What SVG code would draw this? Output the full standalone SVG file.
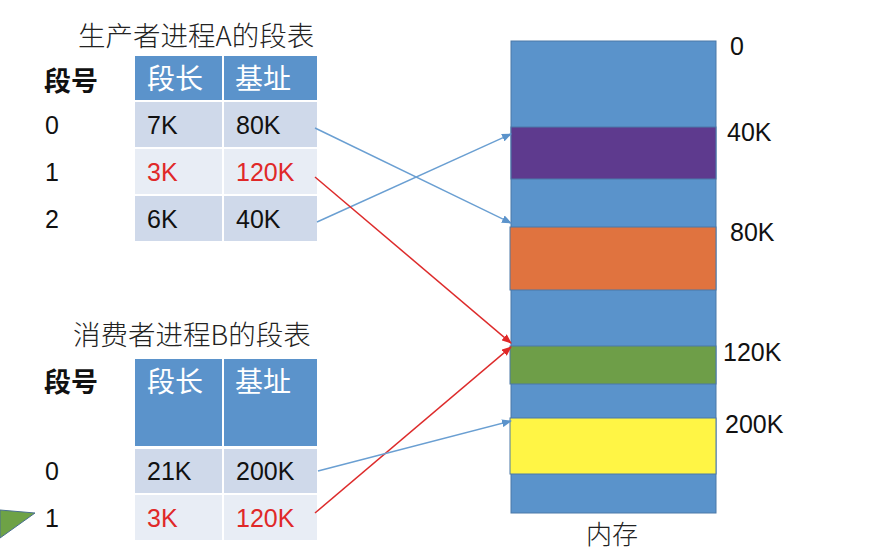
<svg xmlns="http://www.w3.org/2000/svg" width="883" height="551" viewBox="0 0 883 551">
<style>
.t{font-family:"Liberation Sans","Noto Sans CJK SC",sans-serif;font-size:25px;fill:#111}
.cjk{font-family:"Noto Sans CJK SC",sans-serif;font-size:27.5px;font-weight:300;fill:#222}
.mm{font-family:"Noto Sans CJK SC",sans-serif;font-size:26px;font-weight:300;fill:#222}
.hd{font-family:"Noto Sans CJK SC",sans-serif;font-size:28px;fill:#fff}
.bold{font-family:"Noto Sans CJK SC",sans-serif;font-size:27px;font-weight:bold;fill:#111}
.red{fill:#e02828}
.h{fill:#5b93cb}
.r1{fill:#cfd9ea}
.r2{fill:#e8edf5}
.mem{stroke:#4a78a8;stroke-width:1}
.bl{stroke:#6a9fd2;stroke-width:1.5;fill:none;marker-end:url(#ab)}
.rl{stroke:#dd2b2b;stroke-width:1.5;fill:none;marker-end:url(#ar)}
</style>
<defs>
<marker id="ab" markerWidth="10" markerHeight="8" refX="9" refY="4" orient="auto" markerUnits="userSpaceOnUse"><path d="M0,0 L10,4 L0,8 z" fill="#5b93cb"/></marker>
<marker id="ar" markerWidth="10" markerHeight="8" refX="9" refY="4" orient="auto" markerUnits="userSpaceOnUse"><path d="M0,0 L10,4 L0,8 z" fill="#e02828"/></marker>
</defs>
<rect width="883" height="551" fill="#fff"/>

<g id="tableA">
<text class="cjk" x="78" y="46">生产者进程A的段表</text>
<text class="bold" x="44" y="91">段号</text>
<rect class="h" x="135" y="56" width="87" height="44"/>
<rect class="h" x="224" y="56" width="93" height="44"/>
<rect class="r1" x="135" y="102" width="87" height="45"/>
<rect class="r1" x="224" y="102" width="93" height="45"/>
<rect class="r2" x="135" y="149" width="87" height="45"/>
<rect class="r2" x="224" y="149" width="93" height="45"/>
<rect class="r1" x="135" y="196" width="87" height="45"/>
<rect class="r1" x="224" y="196" width="93" height="45"/>
<text class="hd" x="147" y="89">段长</text>
<text class="hd" x="235" y="89">基址</text>
<text class="t" x="45" y="134">0</text>
<text class="t" x="45" y="181">1</text>
<text class="t" x="45" y="228">2</text>
<text class="t" x="147" y="134">7K</text>
<text class="t" x="236" y="134">80K</text>
<text class="t red" x="147" y="181">3K</text>
<text class="t red" x="236" y="181">120K</text>
<text class="t" x="147" y="228">6K</text>
<text class="t" x="236" y="228">40K</text>
</g>

<g id="tableB">
<text class="cjk" x="73" y="345">消费者进程B的段表</text>
<text class="bold" x="44" y="392">段号</text>
<rect class="h" x="135" y="359" width="87" height="87"/>
<rect class="h" x="224" y="359" width="93" height="87"/>
<rect class="r1" x="135" y="449" width="87" height="44"/>
<rect class="r1" x="224" y="449" width="93" height="44"/>
<rect class="r2" x="135" y="495" width="87" height="45"/>
<rect class="r2" x="224" y="495" width="93" height="45"/>
<text class="hd" x="147" y="392">段长</text>
<text class="hd" x="235" y="392">基址</text>
<text class="t" x="45" y="480">0</text>
<text class="t" x="45" y="527">1</text>
<text class="t" x="147" y="480">21K</text>
<text class="t" x="236" y="480">200K</text>
<text class="t red" x="147" y="527">3K</text>
<text class="t red" x="236" y="527">120K</text>
</g>

<g id="pointer">
<polygon points="0,510 35,513 0,538" fill="#6ea246" stroke="#4a6f8f" stroke-width="1"/>
</g>

<g id="memory">
<rect class="mem" x="511" y="41" width="205" height="472" fill="#5a93cb"/>
<rect class="mem" x="511" y="127" width="205" height="52" fill="#5e3a8e"/>
<rect class="mem" x="510" y="227" width="206" height="63" fill="#e0733f"/>
<rect class="mem" x="510" y="346" width="206" height="38" fill="#6e9e48" stroke="#4f7a38"/>
<rect class="mem" x="510" y="418" width="206" height="56" fill="#fff545" stroke="#8a8a40"/>
<text class="t" x="730" y="55">0</text>
<text class="t" x="727" y="141">40K</text>
<text class="t" x="730" y="241">80K</text>
<text class="t" x="723" y="361">120K</text>
<text class="t" x="725" y="433">200K</text>
<text class="mm" x="586" y="544">内存</text>
</g>

<g id="connectors">
<line class="bl" x1="315" y1="128" x2="511" y2="223"/>
<line class="bl" x1="317" y1="222" x2="511" y2="134"/>
<line class="rl" x1="315" y1="177" x2="511" y2="343"/>
<line class="rl" x1="315" y1="513" x2="511" y2="347"/>
<line class="bl" x1="318" y1="471" x2="511" y2="421"/>
</g>
</svg>
